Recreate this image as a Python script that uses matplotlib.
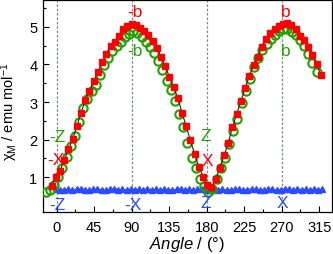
import matplotlib
matplotlib.use('Agg')
import matplotlib.pyplot as plt
import numpy as np
from matplotlib.ticker import MultipleLocator

plt.rcParams['font.family'] = ['Liberation Sans', 'DejaVu Sans']
plt.rcParams['mathtext.fontset'] = 'custom'
plt.rcParams['mathtext.rm'] = 'Liberation Sans'
plt.rcParams['mathtext.it'] = 'Liberation Sans:italic'

# ---- data ----
red_angle = np.linspace(-6, 317, 65)
red_chi = [0.78, 1.00, 1.18, 1.45, 1.74, 2.02, 2.35, 2.72, 3.05, 3.29,
           3.55, 3.80, 4.06, 4.27, 4.48, 4.60, 4.76, 4.94, 5.03, 5.07,
           5.04, 4.97, 4.88, 4.77, 4.63, 4.44, 4.20, 3.95, 3.67, 3.40,
           3.10, 2.72, 2.35, 1.98, 1.62, 1.28, 1.02, 0.80, 0.74, 0.95,
           1.26, 1.58, 1.92, 2.33, 2.68, 3.03, 3.36, 3.70, 3.98, 4.20,
           4.46, 4.68, 4.84, 4.94, 5.01, 5.08, 5.10, 5.04, 4.94, 4.76,
           4.64, 4.46, 4.24, 4.00, 3.72]

green_angle = np.linspace(-13, 312, 66)
green_chi = [0.60, 0.66, 0.80, 1.02, 1.25, 1.55, 1.82, 2.10, 2.48, 2.85,
             3.08, 3.28, 3.45, 3.71, 3.98, 4.18, 4.35, 4.48, 4.60, 4.72,
             4.82, 4.88, 4.84, 4.74, 4.60, 4.45, 4.30, 4.10, 3.85, 3.57,
             3.31, 3.02, 2.67, 2.33, 1.92, 1.52, 1.24, 0.96, 0.76, 0.62,
             0.70, 0.96, 1.25, 1.52, 1.88, 2.22, 2.56, 2.98, 3.28, 3.62,
             3.92, 4.18, 4.38, 4.53, 4.68, 4.79, 4.88, 4.94, 4.93, 4.86,
             4.78, 4.66, 4.50, 4.28, 4.04, 3.80]

blue_angle = np.linspace(-1, 319, 65)
blue_chi = [0.68, 0.66, 0.67, 0.69, 0.66, 0.68, 0.70, 0.67, 0.66, 0.68,
            0.69, 0.67, 0.66, 0.68, 0.70, 0.67, 0.68, 0.66, 0.69, 0.67,
            0.68, 0.66, 0.70, 0.67, 0.68, 0.66, 0.69, 0.67, 0.66, 0.68,
            0.70, 0.67, 0.68, 0.66, 0.69, 0.68, 0.67, 0.66, 0.69, 0.67,
            0.68, 0.66, 0.67, 0.69, 0.68, 0.66, 0.67, 0.70, 0.68, 0.66,
            0.67, 0.69, 0.68, 0.66, 0.67, 0.69, 0.68, 0.66, 0.70, 0.67,
            0.68, 0.66, 0.69, 0.67, 0.68]

ref_angles = [0, 90, 180, 270]
x_ticks = [0, 45, 90, 135, 180, 225, 270, 315]
y_ticks = [1, 2, 3, 4, 5]

# (text, x, y, colour)
labels = [
    ('-b', 94, 5.40, 'red'), ('-b', 94, 4.37, 'green'),
    ('b', 274.6, 5.40, 'red'), ('b', 274.6, 4.37, 'green'),
    ('-Z', 1, 2.08, 'green'), ('-X', -0.5, 1.46, 'red'), ('-Z', 1, 0.29, 'blue'),
    ('-X', 91.6, 0.29, 'blue'),
    ('Z', 179.2, 2.10, 'green'), ('X', 181, 1.45, 'red'), ('Z', 178.8, 0.33, 'blue'),
    ('X', 271, 0.33, 'blue'),
]

colors = {'red': '#ff0000', 'green': '#22a000', 'blue': '#2a4bff'}

fig = plt.figure(figsize=(3.33, 2.55), dpi=100)
ax = fig.add_axes([0.129, 0.1635, 0.867, 0.8325])

for a in ref_angles:
    ax.axvline(a, color='#7a8a8a', lw=0.9, ls=(0, (2, 1.5)), zorder=1)

ax.plot(blue_angle, blue_chi, color=colors['blue'], lw=0.9, marker='^',
        ms=4, mec=colors['blue'], mfc=colors['blue'], zorder=2)
ax.plot(green_angle, green_chi, ls='none', marker='o', ms=6, mfc='none',
        mec=colors['green'], mew=1.5, zorder=3)
ax.plot(red_angle, red_chi, color='#222222', lw=0.8, marker='s', ms=3.8,
        mfc=colors['red'], mec=colors['red'], zorder=4)

for t, x, y, c in labels:
    ax.text(x, y, t, color=colors[c], fontsize=12.5, ha='center', va='center', zorder=5)

ax.set_xlim(-16.4, 330)
ax.set_ylim(0.07, 5.71)
ax.set_xticks(x_ticks)
ax.set_yticks(y_ticks)
ax.xaxis.set_minor_locator(MultipleLocator(22.5))
ax.yaxis.set_minor_locator(MultipleLocator(0.5))
ax.tick_params(which='both', direction='in', labelsize=10.5, width=0.8)
ax.tick_params(which='major', length=4)
ax.tick_params(which='minor', length=2.2)
ax.tick_params(axis='x', pad=5.5)
ax.tick_params(axis='y', pad=4)
for s in ax.spines.values():
    s.set_linewidth(0.9)

ax.set_xlabel(r'$\it{Angle}$ / (°)', fontsize=12, labelpad=0)
ax.set_ylabel('χ$_\\mathrm{M}$ / emu mol$^{-1}$', fontsize=10.5)
ax.yaxis.set_label_coords(-0.078, 0.48)

fig.savefig('out.png', dpi=100)
